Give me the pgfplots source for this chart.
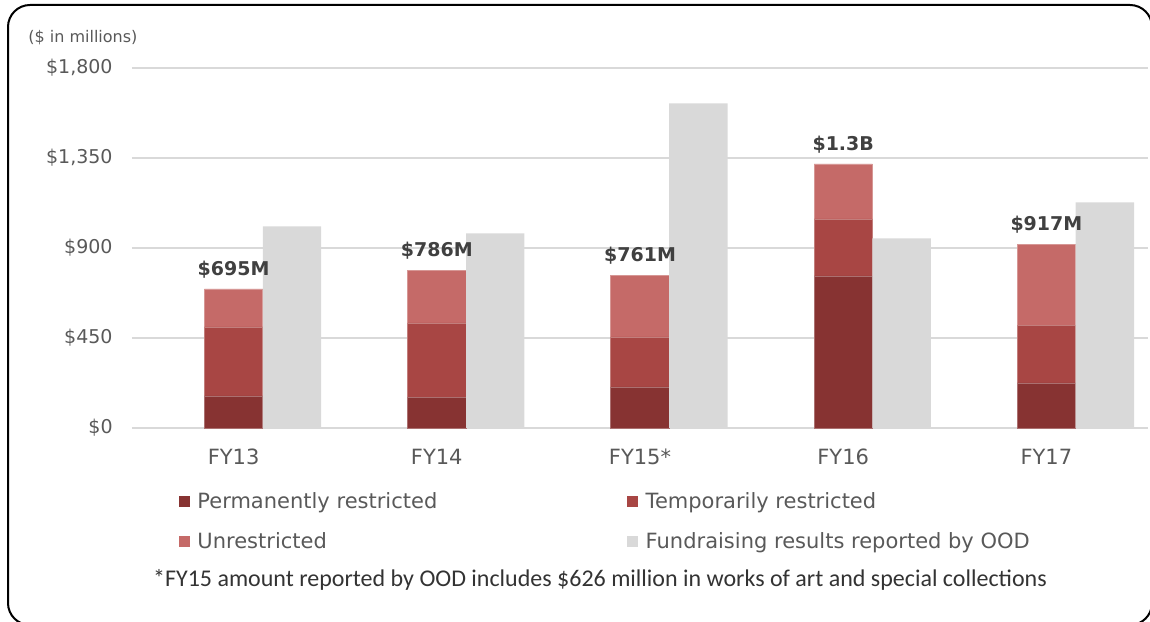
\documentclass[border=0pt]{standalone}
\usepackage{fontspec}
\setmainfont{DejaVu Sans}
\newfontfamily\calibri{Carlito}
\usepackage{pgfplots}
\pgfplotsset{compat=1.18}

\definecolor{permcol}{HTML}{873332}
\definecolor{tempcol}{HTML}{A84644}
\definecolor{unrescol}{HTML}{C56A68}
\definecolor{oodcol}{HTML}{D9D9D9}
\definecolor{txtgray}{HTML}{595959}
\definecolor{lblgray}{HTML}{404040}
\definecolor{notegray}{HTML}{333333}

\pgfplotsset{
  sqlegend/.style={legend image code/.code={\fill[##1,draw=none] (0pt,-2.75pt) rectangle (5.5pt,2.75pt); \path (7pt,0pt);}},
  base/.style={width=508pt, height=180pt, scale only axis,
    xmin=-0.5, xmax=4.5, ymin=0, ymax=1800,
    at={(66pt,96.5pt)}, anchor=south west},
}

\begin{document}
\begin{tikzpicture}
\useasboundingbox (0,0) rectangle (575pt,310.5pt);
\clip (0,0) rectangle (575pt,310.5pt);

\begin{axis}[base,
  ybar stacked, bar width=29.2pt,
  axis line style={draw=none},
  major tick length=0pt,
  ymajorgrids, grid style={oodcol, line width=0.8pt},
  ytick={0,450,900,1350,1800},
  yticklabels={\$0,\$450,\$900,{\$1,350},{\$1,800}},
  yticklabel style={font=\fontsize{9.5}{11}\selectfont, text=txtgray, inner sep=0pt, xshift=-9.5pt},
  xtick={0,1,2,3,4},
  xticklabels={FY13,FY14,FY15*,FY16,FY17},
  xticklabel style={font=\fontsize{10.5}{12}\selectfont, text=txtgray, inner sep=0pt, yshift=-10.2pt},
  legend columns=2, legend cell align=left,
  legend style={draw=none, fill=none, inner sep=0pt, outer sep=0pt,
    at={(0.0463,-0.1675)}, anchor=north west,
    font=\fontsize{10.5}{12}\selectfont, text=txtgray,
    nodes={inner sep=2pt, text depth=0.15em}, row sep=6.4pt,
    /tikz/every even column/.append style={column sep=93pt}},
]
% permanently restricted
\addplot[fill=permcol, draw=permcol!70!white, line width=0.4pt, sqlegend]
  coordinates {(0,160) (1,152) (2,205) (3,760) (4,225)};
\addlegendentry{Permanently restricted}
% temporarily restricted
\addplot[fill=tempcol, draw=tempcol!70!white, line width=0.4pt, sqlegend]
  coordinates {(0,345) (1,373) (2,250) (3,285) (4,288)};
\addlegendentry{Temporarily restricted}
% unrestricted
\addplot[fill=unrescol, draw=unrescol!70!white, line width=0.4pt, sqlegend]
  coordinates {(0,190) (1,261) (2,306) (3,275) (4,404)};
\addlegendentry{Unrestricted}
\addlegendimage{fill=oodcol, sqlegend}
\addlegendentry{Fundraising results reported by OOD}
\end{axis}

% OOD bars next to the stacks, and the stack totals
\begin{axis}[base, hide axis, ybar, bar width=29.2pt]
\addplot[fill=oodcol, draw=none, bar shift=29.2pt]
  coordinates {(0,1008) (1,973) (2,1623) (3,948) (4,1128)};
\addplot[draw=none, fill=none, bar shift=0pt,
  nodes near coords, point meta=explicit symbolic,
  every node near coord/.append style={font=\bfseries\fontsize{9.5}{11}\selectfont, text=lblgray, yshift=2pt}]
  coordinates {(0,695) [\$695M] (1,786) [\$786M] (2,761) [\$761M] (3,1320) [\$1.3B] (4,917) [\$917M]};
\end{axis}

\node[anchor=west, inner sep=0pt, font=\fontsize{8}{9}\selectfont, text=txtgray]
  at (14pt,291.5pt) {(\$ in millions)};
\node[anchor=base, inner sep=0pt, font=\calibri\fontsize{12}{14}\selectfont, text=notegray]
  at (300pt,17.15pt) {*FY15 amount reported by OOD includes \$626 million in works of art and special collections};

\draw[line width=1pt, rounded corners=11pt] (4pt,-2pt) rectangle (576pt,308pt);
\end{tikzpicture}
\end{document}
